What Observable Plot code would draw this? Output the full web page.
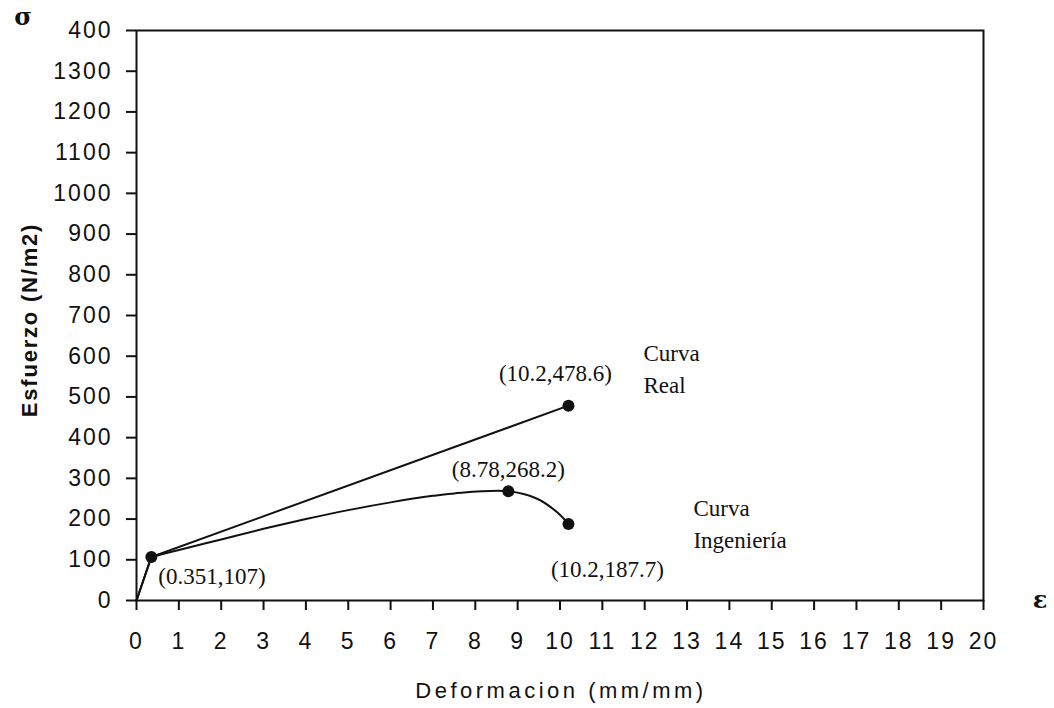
<!DOCTYPE html>
<html>
<head>
<meta charset="utf-8">
<script src="https://cdn.jsdelivr.net/npm/d3@7"></script>
<script src="https://cdn.jsdelivr.net/npm/@observablehq/plot@0.6"></script>
<style>
  html, body { margin: 0; padding: 0; background: #fff; }
  #chart { position: relative; width: 1054px; height: 708px; }
</style>
</head>
<body>
<div id="chart"></div>
<script>
// Data
const yTicks = [0, 100, 200, 300, 400, 500, 600, 700, 800, 900, 1000, 1100, 1200, 1300, 1400];
const yTickLabels = ["0", "100", "200", "300", "400", "500", "600", "700", "800", "900", "1000", "1100", "1200", "1300", "400"];
const xTicks = [0, 1, 2, 3, 4, 5, 6, 7, 8, 9, 10, 11, 12, 13, 14, 15, 16, 17, 18, 19, 20];

// Curva Real: straight segments
const realX = [0, 0.351, 10.2];
const realY = [0, 107, 478.6];

// Curva Ingeniería: elastic segment then curved
const elasticX = [0, 0.351];
const elasticY = [0, 107];
const ingX = [0.351, 1, 2, 3, 4, 5, 6, 7, 7.5, 8.78, 9.46, 9.94, 10.2];
const ingY = [107, 124, 150, 176, 200, 222, 241, 257, 263, 268.2, 250, 216, 187.7];

// Marked points with their labels
const ptX = [0.351, 8.78, 10.2, 10.2];
const ptY = [107, 268.2, 478.6, 187.7];
const ptLabel = ["(0.351,107)", "(8.78,268.2)", "(10.2,478.6)", "(10.2,187.7)"];

const curveNames = ["Curva\nReal", "Curva\nIngeniería"];
const curveNameX = [11.97, 13.15];
const curveNameY = [575, 193];

const real = realX.map((x, i) => ({x, y: realY[i]}));
const elastic = elasticX.map((x, i) => ({x, y: elasticY[i]}));
const ing = ingX.map((x, i) => ({x, y: ingY[i]}));
const pts = ptX.map((x, i) => ({x, y: ptY[i], label: ptLabel[i]}));
const names = curveNames.map((t, i) => ({x: curveNameX[i], y: curveNameY[i], t}));

const serif = "'Liberation Serif', 'Times New Roman', serif";
const labelOffsets = [
  {dx: 7, dy: 20, anchor: "start"},
  {dx: 0, dy: -22, anchor: "middle"},
  {dx: -13, dy: -32, anchor: "middle"},
  {dx: 39, dy: 46, anchor: "middle"}
];

const plot = Plot.plot({
  width: 1054,
  height: 708,
  marginLeft: 136,
  marginRight: 71,
  marginTop: 30,
  marginBottom: 108,
  style: {fontFamily: "'Liberation Sans', Arial, sans-serif", fontSize: "20px", color: "#111", background: "#fff"},
  x: {domain: [0, 20], label: null},
  y: {domain: [0, 1400], label: null},
  marks: [
    Plot.frame({stroke: "#111", strokeWidth: 2}),
    Plot.axisY({ticks: yTicks, tickSize: 10, tickPadding: 14, tickFormat: d => yTickLabels[yTicks.indexOf(d)], stroke: "#111", strokeWidth: 2, fontSize: 23}),
    Plot.axisX({ticks: xTicks, tickSize: 10, tickPadding: 22, tickFormat: d => String(d), stroke: "#111", strokeWidth: 2, fontSize: 23}),
    Plot.line(real, {x: "x", y: "y", stroke: "#111", strokeWidth: 2}),
    Plot.line(elastic, {x: "x", y: "y", stroke: "#111", strokeWidth: 2}),
    Plot.line(ing, {x: "x", y: "y", stroke: "#111", strokeWidth: 2, curve: "catmull-rom"}),
    Plot.dot(pts, {x: "x", y: "y", r: 6, fill: "#111"}),
    ...pts.map((p, i) => Plot.text([p], {x: "x", y: "y", text: "label", dx: labelOffsets[i].dx, dy: labelOffsets[i].dy, textAnchor: labelOffsets[i].anchor, fontFamily: serif, fontSize: 23, fill: "#111"})),
    Plot.text(names, {x: "x", y: "y", text: "t", textAnchor: "start", lineHeight: 1.4, fontFamily: serif, fontSize: 23, fill: "#111"})
  ]
});

const chart = document.getElementById("chart");
chart.appendChild(plot);

const svg = d3.select(plot);
// slightly spaced tick labels, as in the reference
svg.selectAll('g[aria-label="y-axis tick label"] text, g[aria-label="x-axis tick label"] text')
  .style("letter-spacing", "2px");

// Axis titles
svg.append("text")
  .attr("x", 561).attr("y", 698)
  .attr("text-anchor", "middle")
  .attr("font-family", "'Liberation Sans', Arial, sans-serif")
  .attr("font-size", 22).attr("letter-spacing", 3.5)
  .attr("fill", "#111")
  .text("Deformacion (mm/mm)");
svg.append("text")
  .attr("transform", "translate(37,320) rotate(-90)")
  .attr("text-anchor", "middle")
  .attr("font-family", "'Liberation Sans', Arial, sans-serif")
  .attr("font-size", 22).attr("font-weight", "bold").attr("letter-spacing", 1.8)
  .attr("fill", "#111")
  .text("Esfuerzo (N/m2)");
svg.append("text")
  .attr("x", 23).attr("y", 25)
  .attr("text-anchor", "middle")
  .attr("font-family", "'DejaVu Serif', serif").attr("font-weight", "bold")
  .attr("font-size", 24).attr("fill", "#111")
  .text("σ");
svg.append("text")
  .attr("x", 1040).attr("y", 608)
  .attr("text-anchor", "middle")
  .attr("font-family", "'DejaVu Serif', serif").attr("font-weight", "bold")
  .attr("font-size", 24).attr("fill", "#111")
  .text("ε");
</script>
</body>
</html>
